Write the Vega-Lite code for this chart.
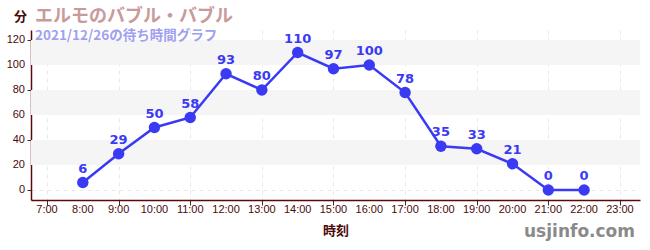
{
  "$schema": "https://vega.github.io/schema/vega-lite/v6.json",
  "autosize": "none",
  "width": 609,
  "height": 170,
  "padding": {"left": 31, "top": 30, "right": 10, "bottom": 50},
  "background": "white",
  "title": {
    "text": "エルモのバブル・バブル",
    "subtitle": "2021/12/26の待ち時間グラフ",
    "anchor": "start",
    "frame": "group",
    "font": "Noto Sans CJK JP",
    "fontSize": 18,
    "fontWeight": "bold",
    "color": "#c89a9a",
    "subtitleFont": "Noto Sans CJK JP",
    "subtitleFontSize": 13.5,
    "subtitleFontWeight": "bold",
    "subtitleColor": "#a0a0f0",
    "subtitlePadding": 3,
    "dx": 4,
    "offset": -32
  },
  "datasets": {
    "waits": [
      {"hour": 8, "wait": 6},
      {"hour": 9, "wait": 29},
      {"hour": 10, "wait": 50},
      {"hour": 11, "wait": 58},
      {"hour": 12, "wait": 93},
      {"hour": 13, "wait": 80},
      {"hour": 14, "wait": 110},
      {"hour": 15, "wait": 97},
      {"hour": 16, "wait": 100},
      {"hour": 17, "wait": 78},
      {"hour": 18, "wait": 35},
      {"hour": 19, "wait": 33},
      {"hour": 20, "wait": 21},
      {"hour": 21, "wait": 0},
      {"hour": 22, "wait": 0}
    ],
    "bands": [
      {"lo": 20, "hi": 40},
      {"lo": 60, "hi": 80},
      {"lo": 100, "hi": 120}
    ],
    "hours": [
      {"hour": 7, "label": "7:00"},
      {"hour": 8, "label": "8:00"},
      {"hour": 9, "label": "9:00"},
      {"hour": 10, "label": "10:00"},
      {"hour": 11, "label": "11:00"},
      {"hour": 12, "label": "12:00"},
      {"hour": 13, "label": "13:00"},
      {"hour": 14, "label": "14:00"},
      {"hour": 15, "label": "15:00"},
      {"hour": 16, "label": "16:00"},
      {"hour": 17, "label": "17:00"},
      {"hour": 18, "label": "18:00"},
      {"hour": 19, "label": "19:00"},
      {"hour": 20, "label": "20:00"},
      {"hour": 21, "label": "21:00"},
      {"hour": 22, "label": "22:00"},
      {"hour": 23, "label": "23:00"}
    ],
    "minutes": [
      {"wait": 0},
      {"wait": 20},
      {"wait": 40},
      {"wait": 60},
      {"wait": 80},
      {"wait": 100},
      {"wait": 120}
    ],
    "mark": [
      {"hour": 23.42, "wait": -33.6, "label": "usjinfo.com"}
    ]
  },
  "layer": [
    {
      "data": {"name": "bands"},
      "mark": {"type": "rect", "color": "#f5f5f5"},
      "encoding": {
        "y": {
          "field": "lo", "type": "quantitative",
          "scale": {"domain": [-8, 128], "nice": false, "zero": false},
          "axis": {
            "values": [0,10,20,30,40,50,60,70,80,90,100,110,120],
            "labels": false,
            "title": "分",
            "titleAngle": 0,
            "titleX": -11,
            "titleY": -14,
            "titleAlign": "center",
            "titleBaseline": "middle",
            "titleFont": "Noto Sans CJK JP",
            "titleFontSize": 13,
            "titleFontWeight": "bold",
            "titleColor": "#4a0a0a",
            "domainColor": "#5a0a0a",
            "domainWidth": 1.5,
            "tickColor": {"condition": {"test": "datum.value % 20 == 0", "value": "#333333"}, "value": "#f06060"},
            "tickSize": 4,
            "grid": true,
            "gridColor": "#e8e8e8",
            "gridDash": [4, 4],
            "gridOpacity": {"condition": {"test": "datum.value % 20 == 0", "value": 1}, "value": 0}
          }
        },
        "y2": {"field": "hi"}
      }
    },
    {
      "data": {"name": "waits"},
      "mark": {"type": "line", "color": "#3a3af5", "strokeWidth": 2.5},
      "encoding": {
        "x": {
          "field": "hour", "type": "quantitative",
          "scale": {"domain": [6.553, 23.56], "nice": false, "zero": false},
          "axis": {
            "values": [7,8,9,10,11,12,13,14,15,16,17,18,19,20,21,22,23],
            "labels": false,
            "title": "時刻",
            "titleFont": "Noto Sans CJK JP",
            "titleFontSize": 13,
            "titleFontWeight": "bold",
            "titleColor": "#4a0a0a",
            "titlePadding": 19,
            "domainColor": "#5a0a0a",
            "domainWidth": 1.5,
            "tickColor": "#333333",
            "tickSize": 5,
            "grid": true,
            "gridColor": "#e8e8e8",
            "gridDash": [4, 4]
          }
        },
        "y": {"field": "wait", "type": "quantitative"}
      }
    },
    {
      "data": {"name": "waits"},
      "mark": {"type": "point", "filled": true, "opacity": 1, "color": "#3a3af5", "size": 130},
      "encoding": {
        "x": {"field": "hour", "type": "quantitative"},
        "y": {"field": "wait", "type": "quantitative"}
      }
    },
    {
      "data": {"name": "waits"},
      "mark": {"type": "text", "color": "#3a3af5", "dy": -14, "font": "DejaVu Sans", "fontSize": 13, "fontWeight": "bold"},
      "encoding": {
        "x": {"field": "hour", "type": "quantitative"},
        "y": {"field": "wait", "type": "quantitative"},
        "text": {"field": "wait", "type": "quantitative"}
      }
    },
    {
      "data": {"name": "hours"},
      "mark": {"type": "text", "color": "#4a0a0a", "align": "center", "baseline": "top", "dy": 4, "font": "Liberation Sans", "fontSize": 11},
      "encoding": {
        "x": {"field": "hour", "type": "quantitative"},
        "y": {"datum": -8, "type": "quantitative"},
        "text": {"field": "label", "type": "nominal"}
      }
    },
    {
      "data": {"name": "minutes"},
      "mark": {"type": "text", "color": "#4a0a0a", "align": "right", "baseline": "middle", "dx": -6, "font": "Liberation Sans", "fontSize": 11},
      "encoding": {
        "x": {"datum": 6.553, "type": "quantitative"},
        "y": {"field": "wait", "type": "quantitative"},
        "text": {"field": "wait", "type": "quantitative"}
      }
    },
    {
      "data": {"name": "mark"},
      "mark": {"type": "text", "color": "#8a8a8a", "align": "right", "baseline": "middle", "font": "DejaVu Sans", "fontSize": 17, "fontWeight": "bold"},
      "encoding": {
        "x": {"field": "hour", "type": "quantitative"},
        "y": {"field": "wait", "type": "quantitative"},
        "text": {"field": "label", "type": "nominal"}
      }
    }
  ],
  "config": {"view": {"stroke": null}}
}
